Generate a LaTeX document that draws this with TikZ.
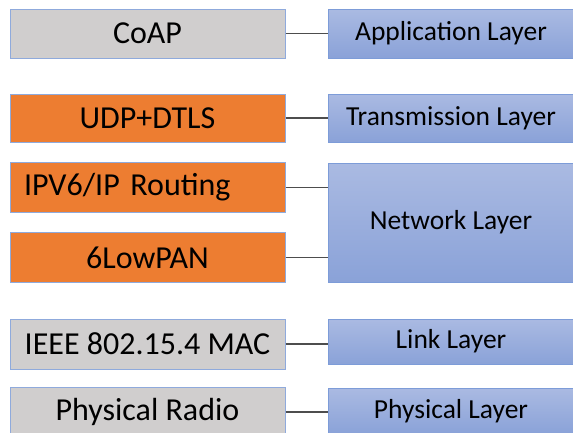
\documentclass[tikz,border=0pt]{standalone}
\usepackage{fontspec}
\setmainfont{Carlito}
\usetikzlibrary{positioning}

\definecolor{protogray}{HTML}{D0CECE}
\definecolor{protoorange}{HTML}{ED7D31}
\definecolor{boxedge}{HTML}{8FAADC}
\definecolor{layertop}{HTML}{AABAE2}
\definecolor{layerbottom}{HTML}{8AA2D8}
\definecolor{layeredge}{HTML}{7D9CD8}
\definecolor{wire}{HTML}{4D4D4D}

\tikzset{
  proto/.style={draw=boxedge, line width=1pt, minimum width=275pt, inner sep=0pt,
    font=\fontsize{32}{36}\selectfont},
  graybox/.style={proto, fill=protogray},
  orangebox/.style={proto, fill=protoorange},
  layer/.style={draw=layeredge, line width=1pt, top color=layertop, bottom color=layerbottom,
    minimum width=246pt, inner sep=0pt, font=\fontsize{27.5}{32}\selectfont},
  wireline/.style={draw=wire, line width=1.3pt}
}

\begin{document}
\begin{tikzpicture}[x=1pt,y=-1pt]
    \useasboundingbox (0,0) rectangle (573,432);
    \clip (0,0) rectangle (573,432);
    % protocol stack
    \node[graybox,minimum height=49pt] (coap) at (147.5,33.5) {CoAP};
    \node[orangebox,minimum height=48pt] (udp) at (147.5,118) {UDP+DTLS};
    \node[orangebox,minimum height=50pt,text width=247pt,align=left] (ipv6) at (147.5,187.5) {IPV6/IP Routing};
    \node[orangebox,minimum height=50pt] (lowpan) at (147.5,257.5) {6LowPAN};
    \node[graybox,minimum height=50pt] (mac) at (147.5,344) {IEEE 802.15.4 MAC};
    \node[graybox,minimum height=50pt] (radio) at (147.5,412) {Physical Radio};
    % layers
    \node[layer,minimum height=49pt] (app) at (451,33.5) {Application Layer};
    \node[layer,minimum height=48pt] (trans) at (451,118) {Transmission Layer};
    \node[layer,minimum height=119pt] (net) at (451,222.5) {Network Layer};
    \node[layer,minimum height=45pt] (link) at (451,341.5) {Link Layer};
    \node[layer,minimum height=46pt] (phy) at (451,411) {Physical Layer};
    \path[wireline]
        (coap.east) -- (coap.east -| app.west)
        (udp.east) -- (udp.east -| trans.west)
        (ipv6.east) -- (ipv6.east -| net.west)
        (lowpan.east) -- (lowpan.east -| net.west)
        (mac.east) -- (mac.east -| link.west)
        (radio.east) -- (radio.east -| phy.west);
\end{tikzpicture}
\end{document}
